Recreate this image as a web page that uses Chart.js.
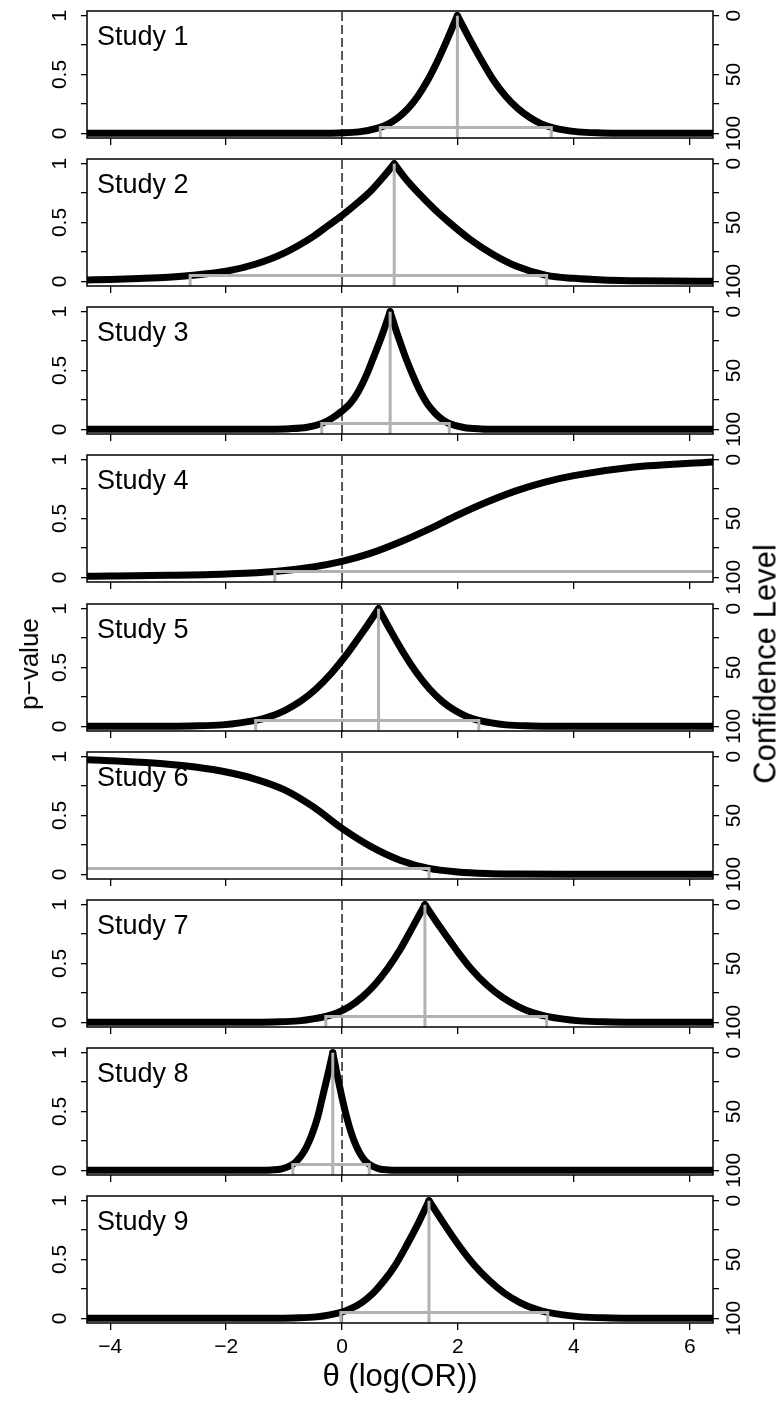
<!DOCTYPE html>
<html>
<head>
<meta charset="utf-8">
<script src="https://cdn.jsdelivr.net/npm/chart.js@4.4.1/dist/chart.umd.min.js"></script>
<style>
  body { margin: 0; background: #fff; width: 782px; height: 1401px; position: relative; overflow: hidden;
         font-family: "Liberation Sans", Arial, sans-serif; }
  canvas.panel { position: absolute; left: 0; }
  .side-title { position: absolute; white-space: nowrap; color: #000; line-height: 1;
                transform: translate(-50%, -50%) rotate(-90deg); }
</style>
</head>
<body>
<div id="panels"></div>
<div class="side-title" style="left:29px; top:664px; font-size:26px;">p−value</div>
<div class="side-title" style="left:765px; top:664px; font-size:31px;">Confidence Level</div>
<script>
// axis ranges (R style, 4% padding)
const xMin = -4.4, xMax = 6.4;
const pMin = -0.04, pMax = 1.04;
const xTicks = [-4, -2, 0, 2, 4, 6];
const pTicks = [0, 0.25, 0.5, 0.75, 1];
const pLabeled = [0, 0.5, 1];
const clTicks = [0, 25, 50, 75, 100];
const clLabeled = [0, 50, 100];
const ciLevel = 0.05;

const studyNames = ['Study 1', 'Study 2', 'Study 3', 'Study 4', 'Study 5',
                    'Study 6', 'Study 7', 'Study 8', 'Study 9'];
// point estimates and 95% limits (null = unbounded)
const estimates = [1.99, 0.9, 0.83, null, 0.63, null, 1.43, -0.16, 1.5];
const ciLower = [0.66, -2.62, -0.35, -1.16, -1.49, null, -0.28, -0.85, -0.02];
const ciUpper = [3.61, 3.53, 1.85, null, 2.36, 1.5, 3.53, 0.47, 3.55];

// p-value functions, [theta, p]
const study1Curve = [[-4.4,0],[-1.5,0.0001],[-0.39,0.0006],[-0.05,0.003],[0.29,0.012],[0.63,0.046],[0.8,0.08],[0.97,0.134],[1.14,0.211],[1.31,0.317],[1.48,0.453],[1.65,0.617],[1.82,0.803],[1.99,1],[2.2,0.803],[2.41,0.617],[2.61,0.453],[2.82,0.317],[3.03,0.211],[3.24,0.134],[3.44,0.08],[3.65,0.046],[4.07,0.012],[4.48,0.003],[4.9,0.0006],[6.4,0]];
const study2Curve = [[-4.4,0.012],[-4,0.016],[-3.5,0.024],[-3,0.035],[-2.62,0.05],[-2,0.085],[-1.5,0.145],[-1,0.24],[-0.5,0.38],[-0.25,0.47],[0,0.56],[0.25,0.66],[0.5,0.77],[0.7,0.88],[0.9,1],[1.1,0.87],[1.3,0.76],[1.6,0.61],[1.85,0.5],[2.2,0.36],[2.6,0.23],[3,0.13],[3.53,0.05],[4,0.025],[4.5,0.011],[5,0.005],[5.7,0.0015],[6.4,0.0005]];
const study3Curve = [[-4.4,0],[-1.3,0.001],[-0.9,0.005],[-0.6,0.018],[-0.35,0.05],[-0.17,0.095],[0,0.155],[0.14,0.22],[0.28,0.32],[0.42,0.46],[0.55,0.62],[0.69,0.8],[0.83,1],[0.96,0.8],[1.09,0.62],[1.22,0.46],[1.35,0.32],[1.48,0.21],[1.61,0.135],[1.74,0.08],[1.85,0.05],[2.1,0.015],[2.4,0.003],[2.7,0.0005],[6.4,0]];
const study4Curve = [[-4.4,0.008],[-4,0.01],[-3,0.017],[-2,0.029],[-1.16,0.05],[-0.5,0.088],[0,0.135],[0.5,0.205],[1,0.3],[1.5,0.41],[2,0.53],[2.5,0.64],[3,0.735],[3.5,0.81],[4,0.865],[5,0.935],[6.4,0.98]];
const study5Curve = [[-4.4,0],[-3.15,0.0005],[-2.61,0.003],[-2.07,0.012],[-1.49,0.05],[-1.26,0.08],[-0.99,0.134],[-0.72,0.211],[-0.45,0.317],[-0.18,0.453],[0.09,0.617],[0.36,0.803],[0.63,1],[0.85,0.803],[1.07,0.617],[1.29,0.453],[1.51,0.317],[1.73,0.211],[1.95,0.134],[2.17,0.08],[2.36,0.05],[2.83,0.012],[3.27,0.003],[3.71,0.0005],[6.4,0]];
const study6Curve = [[-4.4,0.975],[-4,0.966],[-3.5,0.953],[-3,0.936],[-2.5,0.91],[-2,0.87],[-1.5,0.81],[-1,0.72],[-0.5,0.575],[0,0.39],[0.5,0.235],[1,0.12],[1.5,0.05],[2,0.02],[2.5,0.007],[3,0.0025],[4,0.0003],[6.4,0]];
const study7Curve = [[-4.4,0],[-1.62,0.0005],[-1.18,0.003],[-0.75,0.012],[-0.28,0.05],[-0.09,0.08],[0.13,0.134],[0.34,0.211],[0.56,0.317],[0.78,0.453],[1,0.617],[1.21,0.803],[1.43,1],[1.7,0.803],[1.97,0.617],[2.23,0.453],[2.5,0.317],[2.77,0.211],[3.04,0.134],[3.3,0.08],[3.53,0.05],[4.1,0.012],[4.64,0.003],[5.18,0.0005],[6.4,0]];
const study8Curve = [[-4.4,0],[-1.39,0.0005],[-1.22,0.003],[-1.04,0.012],[-0.85,0.05],[-0.78,0.08],[-0.69,0.134],[-0.6,0.211],[-0.51,0.317],[-0.42,0.453],[-0.34,0.617],[-0.25,0.803],[-0.16,1],[-0.08,0.803],[0,0.617],[0.08,0.453],[0.16,0.317],[0.24,0.211],[0.32,0.134],[0.4,0.08],[0.47,0.05],[0.64,0.012],[0.8,0.003],[0.96,0.0005],[6.4,0]];
const study9Curve = [[-4.4,0],[-1.22,0.0005],[-0.83,0.003],[-0.44,0.012],[-0.02,0.05],[0.14,0.08],[0.34,0.134],[0.53,0.211],[0.72,0.317],[0.92,0.453],[1.11,0.617],[1.31,0.803],[1.5,1],[1.76,0.803],[2.02,0.617],[2.28,0.453],[2.55,0.317],[2.81,0.211],[3.07,0.134],[3.33,0.08],[3.55,0.05],[4.12,0.012],[4.64,0.003],[5.16,0.0005],[6.4,0]];
const curves = [study1Curve, study2Curve, study3Curve, study4Curve, study5Curve,
                study6Curve, study7Curve, study8Curve, study9Curve];

Chart.defaults.font.family = '"Liberation Sans", Arial, sans-serif';
Chart.defaults.color = '#000';

const GREY = '#b2b2b2';
const FONT_TICK = 21;

// frame round the plot region
const boxPlugin = {
    id: 'box',
    afterDatasetsDraw(chart) {
        const { ctx, chartArea: a } = chart;
        ctx.save();
        ctx.strokeStyle = '#000';
        ctx.lineWidth = 1.5;
        ctx.strokeRect(a.left, a.top, a.right - a.left, a.bottom - a.top);
        ctx.restore();
    }
};

// "Study n" in the top-left corner
const studyLabel = {
    id: 'studyLabel',
    afterDraw(chart, args, opts) {
        const { ctx, chartArea: a } = chart;
        ctx.save();
        ctx.fillStyle = '#000';
        ctx.font = '27px "Liberation Sans", Arial, sans-serif';
        ctx.textBaseline = 'middle';
        ctx.fillText(opts.text, a.left + 10, a.top + 27);
        ctx.restore();
    }
};

function pts(arr) {
    return arr.map(d => ({ x: d[0], y: d[1] }));
}

function buildDatasets(i) {
    const sets = [];
    const curve = curves[i];

    // split at the peak so each branch stays monotone (sharp cusp)
    let peak = 0;
    curve.forEach((d, k) => { if (d[1] > curve[peak][1]) peak = k; });
    const branches = (peak > 0 && peak < curve.length - 1)
        ? [curve.slice(0, peak + 1), curve.slice(peak)]
        : [curve];

    // grey CI bracket + estimate line (on top)
    const lo = ciLower[i], hi = ciUpper[i];
    const bracket = [];
    if (lo !== null) bracket.push({ x: lo, y: pMin });
    bracket.push({ x: lo === null ? xMin : lo, y: ciLevel });
    bracket.push({ x: hi === null ? xMax : hi, y: ciLevel });
    if (hi !== null) bracket.push({ x: hi, y: pMin });
    sets.push({ data: bracket, borderColor: GREY, borderWidth: 3, pointRadius: 0, order: 0, clip: 0 });

    if (estimates[i] !== null) {
        sets.push({
            data: [{ x: estimates[i], y: pMin }, { x: estimates[i], y: 1 }],
            borderColor: GREY, borderWidth: 3, pointRadius: 0, order: 0, clip: 0
        });
    }

    branches.forEach(b => {
        sets.push({
            data: pts(b),
            borderColor: '#000',
            borderWidth: 7,
            borderCapStyle: 'round',
            borderJoinStyle: 'round',
            cubicInterpolationMode: 'monotone',
            pointRadius: 0,
            order: 1,
            clip: 0
        });
    });

    // null line
    sets.push({
        data: [{ x: 0, y: pMin }, { x: 0, y: pMax }],
        borderColor: '#000', borderWidth: 1.3, borderDash: [9, 4],
        pointRadius: 0, order: 2, clip: 0
    });
    return sets;
}

// keep the plot region fixed: no extra room for half labels
function noPad(s) {
    s.paddingTop = 0; s.paddingBottom = 0; s.paddingLeft = 0; s.paddingRight = 0;
}

const holder = document.getElementById('panels');
const PAD_TOP = 4, AREA_H = 127, LEFT_W = 87, RIGHT_W = 69;

studyNames.forEach((name, i) => {
    const last = i === studyNames.length - 1;
    const areaTop = Math.round(10.7 + 148.2 * i);
    const h = last ? 210 : 148;
    const cv = document.createElement('canvas');
    cv.className = 'panel';
    cv.width = 782; cv.height = h;
    cv.style.width = '782px'; cv.style.height = h + 'px';
    cv.style.top = (areaTop - PAD_TOP) + 'px';
    holder.appendChild(cv);

    new Chart(cv, {
        type: 'line',
        data: { datasets: buildDatasets(i) },
        options: {
            responsive: false,
            animation: false,
            devicePixelRatio: 1,
            events: [],
            layout: { padding: { top: PAD_TOP, left: 0, right: 0, bottom: 0 } },
            plugins: {
                legend: { display: false },
                tooltip: { enabled: false },
                studyLabel: { text: name }
            },
            scales: {
                x: {
                    type: 'linear', min: xMin, max: xMax,
                    afterBuildTicks: s => { s.ticks = xTicks.map(v => ({ value: v })); },
                    afterFit: s => { s.height = h - PAD_TOP - AREA_H; noPad(s); },
                    grid: { drawOnChartArea: false, tickLength: 7, color: '#000', lineWidth: 1.3 },
                    border: { display: false },
                    ticks: {
                        display: last, padding: 5, autoSkip: false, maxRotation: 0,
                        font: { size: FONT_TICK },
                        callback: v => v < 0 ? '\u2212' + (-v) : String(v)
                    },
                    title: {
                        display: last, text: 'θ (log(OR))', color: '#000',
                        font: { size: 31 }, padding: { top: 0, bottom: 6 }
                    }
                },
                y: {
                    type: 'linear', position: 'left', min: pMin, max: pMax,
                    afterBuildTicks: s => { s.ticks = pTicks.map(v => ({ value: v })); },
                    afterFit: s => { s.width = LEFT_W; noPad(s); },
                    grid: { drawOnChartArea: false, tickLength: 6, color: '#000', lineWidth: 1.3 },
                    border: { display: false },
                    ticks: {
                        autoSkip: false, minRotation: 90, maxRotation: 90, crossAlign: 'center',
                        padding: 6, font: { size: FONT_TICK },
                        callback: v => pLabeled.includes(v) ? String(v) : ''
                    }
                },
                y2: {
                    type: 'linear', position: 'right', min: -4, max: 104, reverse: true,
                    afterBuildTicks: s => { s.ticks = clTicks.map(v => ({ value: v })); },
                    afterFit: s => { s.width = RIGHT_W; noPad(s); },
                    grid: { drawOnChartArea: false, tickLength: 6, color: '#000', lineWidth: 1.3 },
                    border: { display: false },
                    ticks: {
                        autoSkip: false, minRotation: 90, maxRotation: 90, crossAlign: 'center',
                        padding: -2, font: { size: FONT_TICK },
                        callback: v => clLabeled.includes(v) ? String(v) : ''
                    }
                }
            }
        },
        plugins: [boxPlugin, studyLabel]
    });
});
</script>
</body>
</html>
